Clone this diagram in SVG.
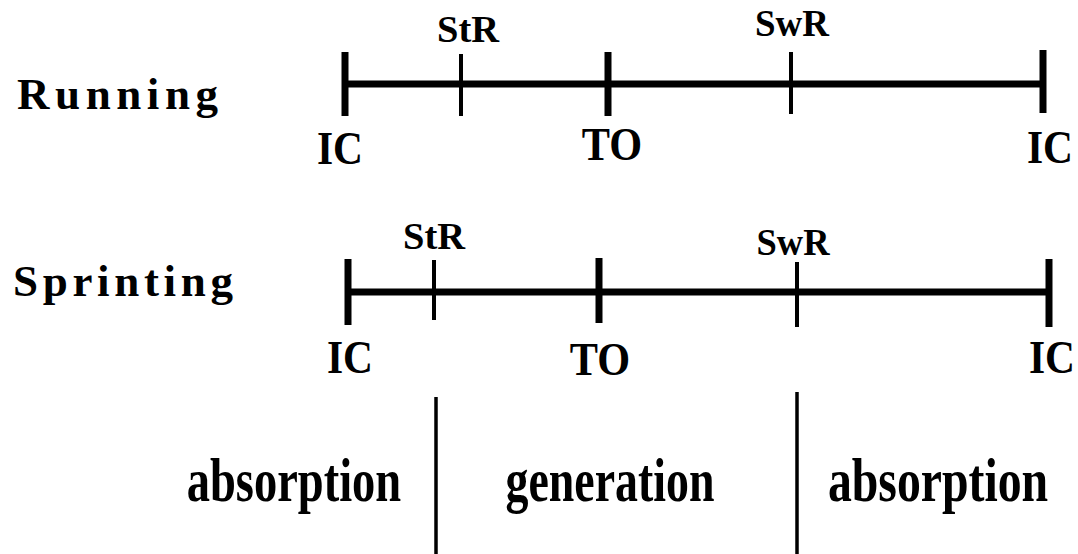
<svg xmlns="http://www.w3.org/2000/svg" width="1078" height="554" viewBox="0 0 1078 554">
<style>
text{font-family:"Liberation Serif","Times New Roman",serif;font-weight:bold;fill:#000}
.title{font-size:45px}
.ev{font-size:46px;text-anchor:middle}
.sm{font-size:38px;text-anchor:middle}
.ph{font-size:62px;text-anchor:middle}
.axis{stroke:#000;stroke-width:7;fill:none}
.thick{stroke:#000;stroke-width:7;fill:none}
.thin{stroke:#000;stroke-width:4;fill:none}
.div{stroke:#000;stroke-width:3.5;fill:none}
</style>
<rect width="1078" height="554" fill="#fff"/>
<g id="running">
<text class="title" x="17" y="109" textLength="201" lengthAdjust="spacing">Running</text>
<line class="axis" x1="345" y1="84" x2="1043" y2="84"/>
<line class="thick" x1="345" y1="52" x2="345" y2="116"/>
<line class="thin" x1="461" y1="54" x2="461" y2="116"/>
<line class="thick" x1="608" y1="52" x2="608" y2="116"/>
<line class="thin" x1="791" y1="52" x2="791" y2="114"/>
<line class="thick" x1="1043" y1="50" x2="1043" y2="113"/>
<text class="sm" x="468" y="42" textLength="62" lengthAdjust="spacingAndGlyphs">StR</text>
<text class="sm" x="792" y="36" textLength="74" lengthAdjust="spacingAndGlyphs">SwR</text>
<text class="ev" transform="translate(340,164) scale(0.9,1)">IC</text>
<text class="ev" transform="translate(612,160) scale(0.92,1)">TO</text>
<text class="ev" transform="translate(1050,163) scale(0.9,1)">IC</text>
</g>
<g id="sprinting">
<text class="title" x="13" y="296" textLength="220" lengthAdjust="spacing">Sprinting</text>
<line class="axis" x1="348" y1="292" x2="1049" y2="292"/>
<line class="thick" x1="348" y1="259" x2="348" y2="325"/>
<line class="thin" x1="434" y1="260" x2="434" y2="320"/>
<line class="thick" x1="599" y1="258" x2="599" y2="323"/>
<line class="thin" x1="797" y1="262" x2="797" y2="327"/>
<line class="thick" x1="1049" y1="259" x2="1049" y2="327"/>
<text class="sm" x="434" y="249" textLength="62" lengthAdjust="spacingAndGlyphs">StR</text>
<text class="sm" x="793" y="255" textLength="73" lengthAdjust="spacingAndGlyphs">SwR</text>
<text class="ev" transform="translate(350,373) scale(0.9,1)">IC</text>
<text class="ev" transform="translate(600,375) scale(0.92,1)">TO</text>
<text class="ev" transform="translate(1052,373) scale(0.9,1)">IC</text>
</g>
<g id="phases">
<line class="div" x1="436" y1="397" x2="436" y2="554"/>
<line class="div" x1="797" y1="392" x2="797" y2="554"/>
<text class="ph" transform="translate(294,501) scale(0.75,1)">absorption</text>
<text class="ph" transform="translate(610,501) scale(0.74,1)">generation</text>
<text class="ph" transform="translate(938,501) scale(0.77,1)">absorption</text>
</g>
</svg>
